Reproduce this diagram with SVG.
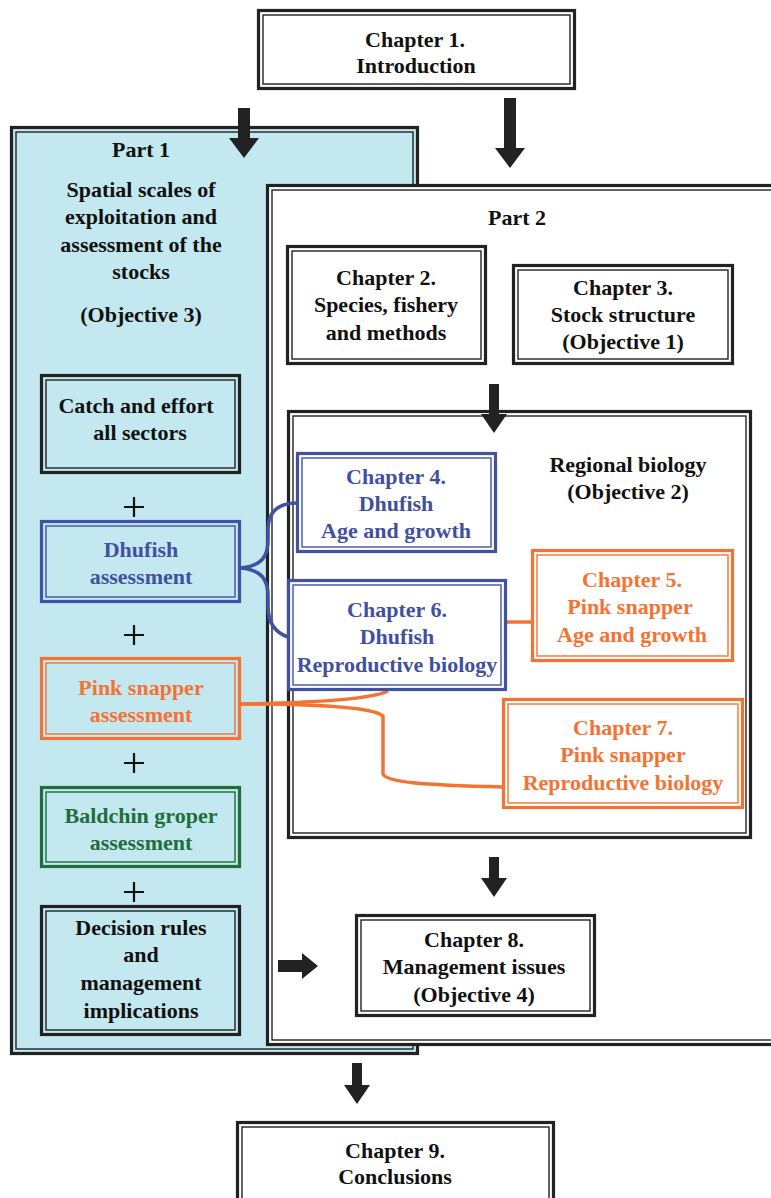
<svg xmlns="http://www.w3.org/2000/svg" width="771" height="1198" viewBox="0 0 771 1198">
<style>
text{font-family:"Liberation Serif","Times New Roman",serif;font-weight:bold;font-size:22px;text-anchor:middle}
.k{fill:#111}
.b{fill:#4150a0}
.o{fill:#f47333}
.g{fill:#1f6e3b}
.dk{stroke:#222}
.bl{stroke:#4152a3}
.or{stroke:#f47333}
.gr{stroke:#1f6e3b}
.out{stroke-width:3.2}
.in{stroke-width:1.4;fill:none}
.cy{fill:#c3e8ef}
.wh{fill:#ffffff}
.arr{fill:#222}
.plus{stroke:#111;stroke-width:2.2}
</style>
<rect width="771" height="1198" fill="#ffffff"/>

<g id="part1">
<rect x="11.5" y="127.5" width="406" height="926" class="dk out cy"/>
<rect x="16" y="132" width="397" height="917" class="dk in"/>
<text class="k" x="141" y="157">Part 1</text>
<text class="k" x="141" y="197">Spatial scales of</text>
<text class="k" x="141" y="224">exploitation and</text>
<text class="k" x="141" y="252">assessment of the</text>
<text class="k" x="141" y="279">stocks</text>
<text class="k" x="141" y="322">(Objective 3)</text>
</g>

<g id="part2">
<rect x="267.5" y="185.5" width="510" height="859" class="dk out wh"/>
<rect x="272" y="190" width="510" height="850" class="dk in"/>
<text class="k" x="517" y="225">Part 2</text>
</g>

<g id="ch1">
<rect x="258.5" y="10.5" width="316" height="78" class="dk out wh"/>
<rect x="263" y="15" width="307" height="69" class="dk in"/>
<text class="k" x="415" y="47">Chapter 1.</text>
<text class="k" x="416" y="73">Introduction</text>
</g>

<g id="catch">
<rect x="41.5" y="375.5" width="198" height="97" class="dk out cy"/>
<rect x="46" y="380" width="189" height="88" class="dk in"/>
<text class="k" x="136" y="413">Catch and effort</text>
<text class="k" x="140" y="440">all sectors</text>
</g>

<g id="dhufish-assess">
<rect x="41.5" y="521.5" width="198" height="80" class="bl out cy"/>
<rect x="46" y="526" width="189" height="71" class="bl in"/>
<text class="b" x="141" y="557">Dhufish</text>
<text class="b" x="141" y="584">assessment</text>
</g>

<g id="pink-assess">
<rect x="41.5" y="658.5" width="198" height="80" class="or out cy"/>
<rect x="46" y="663" width="189" height="71" class="or in"/>
<text class="o" x="141" y="695">Pink snapper</text>
<text class="o" x="141" y="722">assessment</text>
</g>

<g id="baldchin-assess">
<rect x="41.5" y="787.5" width="198" height="79" class="gr out cy"/>
<rect x="46" y="792" width="189" height="70" class="gr in"/>
<text class="g" x="141" y="823">Baldchin groper</text>
<text class="g" x="141" y="850">assessment</text>
</g>

<g id="decision">
<rect x="41.5" y="906.5" width="198" height="128" class="dk out cy"/>
<rect x="46" y="911" width="189" height="119" class="dk in"/>
<text class="k" x="141" y="935">Decision rules</text>
<text class="k" x="141" y="962">and</text>
<text class="k" x="141" y="990">management</text>
<text class="k" x="141" y="1018">implications</text>
</g>

<g id="plus-signs">
<path class="plus" d="M124,507 H144 M134,497 V517"/>
<path class="plus" d="M124,635 H144 M134,625 V645"/>
<path class="plus" d="M124,763 H144 M134,753 V773"/>
<path class="plus" d="M124,892 H144 M134,882 V902"/>
</g>

<g id="ch2">
<rect x="287.5" y="246.5" width="198" height="117" class="dk out wh"/>
<rect x="292" y="251" width="189" height="108" class="dk in"/>
<text class="k" x="386" y="285">Chapter 2.</text>
<text class="k" x="386" y="312">Species, fishery</text>
<text class="k" x="386" y="340">and methods</text>
</g>

<g id="ch3">
<rect x="513.5" y="265.5" width="219" height="98" class="dk out wh"/>
<rect x="518" y="270" width="210" height="89" class="dk in"/>
<text class="k" x="623" y="295">Chapter 3.</text>
<text class="k" x="623" y="322">Stock structure</text>
<text class="k" x="623" y="349">(Objective 1)</text>
</g>

<g id="regional">
<rect x="288.5" y="411.5" width="462" height="426" class="dk out wh"/>
<rect x="293" y="416" width="453" height="417" class="dk in"/>
<text class="k" x="628" y="472">Regional biology</text>
<text class="k" x="628" y="499">(Objective 2)</text>
</g>

<g id="connectors">
<path d="M241,568 C262,566 268,556 268,540 V530 C268,512 278,503 297,503" fill="none" stroke="#4152a3" stroke-width="3.6"/>
<path d="M241,568 C262,570 268,580 268,596 V606 C268,624 276,633 288,637" fill="none" stroke="#4152a3" stroke-width="3.6"/>
<path d="M506,622 H532" fill="none" stroke="#f47333" stroke-width="3.5"/>
<path d="M241,704 C300,703 370,700 388,691" fill="none" stroke="#f47333" stroke-width="3.5"/>
<path d="M241,704 C320,704 372,707 383,716 V774 C386,782 420,785 503,787" fill="none" stroke="#f47333" stroke-width="3.5"/>
<path class="arr" d="M238,108 H250 V138 H259 L244,158 L229,138 H238 Z"/>
<path class="arr" d="M504,98 H516 V148 H525 L510,168 L495,148 H504 Z"/>
<path class="arr" d="M489,384 H499 V414 H507 L494,433 L481,414 H489 Z"/>
<path class="arr" d="M489,857 H499 V878 H507 L494,897 L481,878 H489 Z"/>
<path class="arr" d="M278,960 H302 V953 L318,966 L302,979 V972 H278 Z"/>
<path class="arr" d="M352,1063 H362 V1085 H370 L357,1104 L344,1085 H352 Z"/>
</g>

<g id="ch4">
<rect x="297.5" y="453.5" width="198" height="98" class="bl out wh"/>
<rect x="302" y="458" width="189" height="89" class="bl in"/>
<text class="b" x="396" y="484">Chapter 4.</text>
<text class="b" x="396" y="511">Dhufish</text>
<text class="b" x="396" y="538">Age and growth</text>
</g>

<g id="ch6">
<rect x="288.5" y="580.5" width="217" height="109" class="bl out wh"/>
<rect x="293" y="585" width="208" height="100" class="bl in"/>
<text class="b" x="397" y="617">Chapter 6.</text>
<text class="b" x="397" y="644">Dhufish</text>
<text class="b" x="397" y="672">Reproductive biology</text>
</g>

<g id="ch5">
<rect x="532.5" y="550.5" width="200" height="110" class="or out wh"/>
<rect x="537" y="555" width="191" height="101" class="or in"/>
<text class="o" x="632" y="587">Chapter 5.</text>
<text class="o" x="630" y="614">Pink snapper</text>
<text class="o" x="632" y="642">Age and growth</text>
</g>

<g id="ch7">
<rect x="503.5" y="699.5" width="239" height="108" class="or out wh"/>
<rect x="508" y="704" width="230" height="99" class="or in"/>
<text class="o" x="623" y="735">Chapter 7.</text>
<text class="o" x="623" y="762">Pink snapper</text>
<text class="o" x="623" y="790">Reproductive biology</text>
</g>

<g id="ch8">
<rect x="356.5" y="915.5" width="238" height="100" class="dk out wh"/>
<rect x="361" y="920" width="229" height="91" class="dk in"/>
<text class="k" x="474" y="947">Chapter 8.</text>
<text class="k" x="474" y="974">Management issues</text>
<text class="k" x="474" y="1002">(Objective 4)</text>
</g>

<g id="ch9">
<rect x="237.5" y="1122.5" width="316" height="90" class="dk out wh"/>
<rect x="242" y="1127" width="307" height="90" class="dk in"/>
<text class="k" x="395" y="1158">Chapter 9.</text>
<text class="k" x="395" y="1184">Conclusions</text>
</g>
</svg>
